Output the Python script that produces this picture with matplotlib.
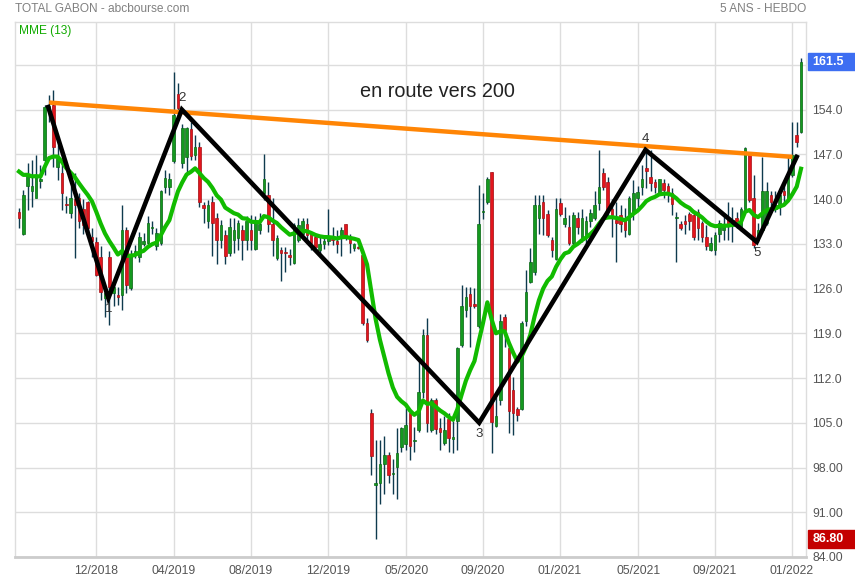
import numpy as np
import matplotlib.pyplot as plt
from matplotlib.patches import Rectangle

plt.rcParams['font.family'] = ['Liberation Sans', 'DejaVu Sans']

# weekly candles (one entry per week, oldest first)
opens = [138.0, 134.6, 142.0, 141.2, 140.1, 142.8, 146.1, 154.0, 154.7, 145.0,
         144.0, 139.2, 137.8, 140.0, 140.1, 138.5, 139.6, 134.0, 133.3, 131.0,
         124.5, 131.0, 125.3, 125.0, 125.0, 135.2, 126.1, 131.6, 131.0, 132.9,
         133.1, 135.4, 132.6, 133.1, 141.9, 141.9, 145.9, 156.5, 145.6, 146.6,
         151.0, 146.9, 148.1, 139.1, 136.5, 139.6,
         137.0, 133.6, 134.4, 131.5, 133.6, 133.9, 135.2, 133.6, 135.2, 132.2,
         135.2, 140.9, 140.6, 136.1, 130.8, 132.0, 131.6, 131.2, 130.0, 133.6,
         134.6, 136.1, 134.6, 134.0, 132.0, 133.0, 133.4, 133.8, 133.5, 134.4,
         136.1, 134.1, 132.4, 132.5, 131.2, 120.6, 106.6, 95.2, 95.6, 98.5,
         99.9, 97.0, 98.1, 101.2, 101.7,
         106.5, 102.1, 103.8, 109.8, 118.8, 103.8, 108.6, 104.2, 101.8, 105.6,
         102.5, 105.2, 117.2, 122.7, 125.1, 123.6, 120.1, 137.9, 139.6, 144.2,
         104.5, 108.6, 121.5, 116.7, 110.2, 107.1, 107.1, 120.9, 127.1, 128.6,
         137.0, 139.6, 137.6, 133.6, 130.6, 139.4, 136.1, 135.6, 133.1, 137.0,
         133.6, 134.0, 136.5, 137.0, 139.4, 144.0,
         142.7, 138.5, 136.8, 137.5, 137.1, 134.5, 138.0, 140.1, 141.9, 144.9,
         143.5, 142.7, 141.0, 142.5, 142.0, 141.0, 137.0, 136.1, 136.6, 137.6,
         137.5, 138.0, 136.2, 134.1, 132.1, 132.1, 134.6, 135.2, 137.0, 135.9,
         137.0, 135.7, 138.5, 146.9, 140.1, 133.6, 135.2, 136.2, 140.6, 138.5,
         139.1, 141.2, 140.1, 143.8, 150.0, 150.5]
highs = [138.6, 141.4, 145.6, 146.1, 146.9, 145.3, 154.7, 156.3, 157.1, 148.5,
         146.1, 140.5, 142.0, 144.0, 140.9, 140.0, 139.7, 135.5, 134.1, 132.6,
         126.0, 131.8, 127.4, 126.3, 139.1, 135.7, 132.0, 132.8, 134.9, 134.7,
         137.3, 136.5, 135.4, 141.4, 144.6, 144.0, 159.9, 158.1, 151.8, 151.3,
         152.1, 150.0, 149.0, 139.6, 139.9, 140.4,
         137.8, 136.7, 135.2, 137.0, 137.0, 136.8, 136.0, 137.3, 137.5, 137.3,
         137.8, 147.0, 142.7, 140.1, 134.3, 132.5, 132.5, 132.2, 136.2, 137.0,
         137.0, 137.0, 134.9, 134.6, 134.0, 134.3, 138.5, 135.6, 135.2, 135.7,
         136.1, 134.6, 133.2, 132.7, 131.7, 121.4, 107.2, 102.3, 102.3, 102.9,
         100.5, 99.4, 104.2, 104.4, 107.3,
         106.8, 104.4, 115.0, 119.7, 121.4, 108.8, 108.8, 105.8, 106.0, 106.5,
         105.2, 116.9, 126.6, 126.3, 126.3, 126.1, 142.2, 141.0, 143.5, 144.2,
         109.0, 122.0, 122.0, 117.5, 112.2, 107.5, 120.9, 128.9, 132.3, 140.6,
         140.6, 140.6, 138.3, 134.0, 140.1, 140.1, 138.8, 137.5, 138.0, 138.0,
         138.5, 137.3, 138.5, 141.2, 147.7, 144.8,
         143.5, 140.0, 139.6, 139.1, 138.6, 140.4, 143.0, 142.1, 145.3, 147.7,
         147.7, 143.2, 143.2, 143.2, 142.5, 141.7, 138.0, 136.5, 137.5, 138.0,
         138.3, 138.5, 136.5, 135.9, 134.1, 134.9, 136.7, 137.8, 139.6, 138.8,
         138.0, 138.8, 148.2, 147.4, 143.8, 136.2, 146.6, 142.7, 141.2, 141.2,
         141.7, 142.7, 146.9, 152.1, 152.1, 162.0]
lows = [135.4, 134.4, 138.3, 138.8, 140.1, 141.8, 143.8, 152.0, 145.0, 143.0,
        138.3, 137.8, 137.0, 130.8, 135.4, 134.5, 134.6, 131.0, 127.9, 124.2,
        121.6, 120.3, 123.2, 123.4, 122.7, 125.3, 125.8, 130.8, 130.2, 132.6,
        132.6, 134.5, 132.0, 132.8, 140.9, 140.6, 145.6, 153.9, 144.8, 144.0,
        146.1, 146.1, 138.8, 136.2, 135.4, 131.1,
        129.9, 132.3, 129.9, 131.1, 131.5, 132.0, 130.4, 132.1, 132.0, 132.0,
        134.6, 139.9, 134.9, 131.1, 130.5, 127.2, 128.6, 129.7, 129.9, 133.3,
        134.1, 133.3, 132.0, 132.0, 131.5, 132.2, 132.8, 132.8, 131.5, 131.1,
        133.6, 131.5, 131.9, 132.2, 120.3, 117.7, 96.8, 86.8, 92.3, 93.8,
        95.6, 93.8, 93.0, 100.5, 100.7,
        99.2, 100.5, 103.6, 108.8, 103.6, 103.6, 103.3, 100.8, 101.5, 100.5,
        100.2, 100.8, 116.9, 121.6, 116.9, 123.0, 119.8, 136.9, 139.3, 100.3,
        104.4, 107.8, 116.9, 103.4, 103.1, 105.2, 107.0, 120.1, 126.8, 128.1,
        134.6, 134.4, 134.1, 131.0, 130.5, 137.3, 135.7, 132.8, 132.8, 134.6,
        133.3, 133.0, 135.7, 136.7, 138.3, 141.4,
        137.0, 134.0, 130.2, 134.9, 134.1, 134.4, 136.7, 138.8, 140.6, 141.7,
        141.2, 141.0, 140.8, 140.1, 139.6, 137.5, 130.2, 135.2, 134.6, 135.2,
        133.6, 133.6, 133.3, 132.1, 131.8, 131.2, 133.3, 133.6, 133.6, 133.3,
        135.4, 135.0, 138.0, 139.6, 132.3, 133.3, 134.9, 135.9, 138.0, 138.0,
        137.5, 139.6, 139.9, 143.5, 148.2, 150.3]
closes = [137.0, 140.7, 143.8, 142.1, 143.8, 143.1, 154.4, 154.5, 148.1, 146.5,
          140.9, 139.0, 140.1, 139.0, 136.5, 136.0, 135.4, 133.5, 128.1, 125.5,
          125.3, 126.3, 126.3, 124.7, 135.2, 126.6, 131.3, 131.8, 134.1, 133.4,
          136.2, 135.5, 134.7, 141.2, 143.3, 143.2, 153.1, 154.2, 151.1, 151.1,
          146.8, 148.1, 139.6, 138.6, 139.1, 136.2,
          133.6, 135.9, 131.1, 135.6, 135.2, 136.2, 133.6, 136.5, 133.6, 136.2,
          136.1, 143.1, 136.1, 133.6, 133.9, 131.5, 131.5, 131.0, 135.9, 135.9,
          136.5, 134.4, 133.1, 132.5, 132.9, 133.4, 133.9, 133.6, 132.9, 135.2,
          134.4, 133.1, 132.9, 132.4, 120.6, 118.0, 99.8, 95.6, 98.5, 99.9,
          96.9, 97.2, 100.2, 104.2, 104.7,
          101.3, 102.3, 109.8, 118.8, 104.9, 108.5, 104.1, 103.6, 103.8, 102.6,
          102.7, 116.7, 123.2, 124.7, 123.2, 123.2, 136.1, 138.2, 143.1, 105.1,
          106.0, 121.0, 119.5, 106.8, 106.6, 106.2, 120.6, 125.5, 130.1, 139.1,
          139.1, 137.0, 134.4, 132.0, 138.5, 137.6, 137.0, 133.1, 137.5, 135.6,
          137.0, 136.6, 137.8, 139.1, 141.9, 141.9,
          138.0, 137.5, 136.3, 136.1, 135.2, 140.1, 141.0, 141.1, 143.1, 144.4,
          142.5, 141.9, 143.1, 141.4, 140.9, 139.3, 137.0, 135.5, 136.1, 136.5,
          134.1, 135.4, 134.1, 132.6, 133.1, 134.4, 136.2, 135.9, 135.9, 136.7,
          136.2, 138.5, 148.0, 139.9, 132.8, 135.2, 141.2, 141.2, 139.6, 139.1,
          140.6, 140.6, 143.8, 146.9, 149.0, 161.5]

mme_start = 144.3  # MME(13) value at the first visible week

x_tick_pos = [17.9, 36.1, 54.0, 71.9, 90.1, 108.0, 125.9, 144.1, 162.0, 179.9]
x_tick_labels = ['12/2018', '04/2019', '08/2019', '12/2019', '05/2020',
                 '09/2020', '01/2021', '05/2021', '09/2021', '01/2022']

# hand drawn wave (points 0..5 + end) and resistance line
wave_x = [6.8, 20.8, 37.9, 107.1, 145.8, 171.7, 181.0]
wave_y = [154.4, 124.5, 154.0, 105.0, 147.7, 133.3, 146.6]
wave_names = ['', '1', '2', '3', '4', '5', '']
trend_x = [7.0, 180.0]
trend_y = [155.1, 146.6]

opens = np.array(opens)
highs = np.array(highs)
lows = np.array(lows)
closes = np.array(closes)
x = np.arange(len(closes))

# exponential moving average, 13 weeks
alpha = 2.0 / (13 + 1)
mme = np.zeros(len(closes))
mme[0] = mme_start
for i in range(1, len(closes)):
    mme[i] = mme[i - 1] + alpha * (closes[i] - mme[i - 1])

fig = plt.figure(figsize=(8.55, 5.8), dpi=100)
ax = fig.add_axes([15 / 855, 23 / 580, 791 / 855, 535 / 580])

up = closes >= opens
body_col = np.where(up, '#14991f', '#e3151d')
edge_col = np.where(up, '#0b6a14', '#a80f14')
ax.vlines(x, lows, highs, color='#0e3a4e', lw=1, zorder=2)
ax.bar(x, np.maximum(np.abs(closes - opens), 0.15), bottom=np.minimum(opens, closes),
       width=0.6, color=body_col, edgecolor=edge_col, linewidth=0.5, zorder=3)

ax.plot(x, mme, color='#11bb00', lw=3.0, zorder=4, solid_joinstyle='round')
ax.plot(trend_x, trend_y, color='#ff8505', lw=3.2, zorder=5, solid_capstyle='butt')
ax.plot(wave_x, wave_y, color='black', lw=3.3, zorder=6, solid_joinstyle='miter')

for i, name in enumerate(wave_names):
    if not name:
        continue
    dy = 8 if i % 2 == 0 else -8
    ax.annotate(name, (wave_x[i], wave_y[i]), xytext=(0, dy), textcoords='offset points',
                ha='center', va='center', fontsize=9.5, color='#333333', zorder=7)

ax.text(0.5335, 0.871, 'en route vers 200', transform=ax.transAxes, ha='center',
        va='center', fontsize=14.3, color='#222222')
ax.text(0.005, 0.995, 'MME (13)', transform=ax.transAxes, ha='left', va='top',
        fontsize=8.6, color='#11aa00')

ax.set_xlim(-0.93, 183.16)
ax.set_ylim(84, 167.7)

y_grid = np.arange(84, 162, 7)
ax.set_yticks(y_grid)
ax.set_yticklabels(['%.2f' % v if v < 100 else '%.1f' % v for v in y_grid[:-1]] + [''])
ax.yaxis.tick_right()
ax.set_xticks(x_tick_pos)
ax.set_xticklabels(x_tick_labels)
ax.tick_params(axis='both', length=0, labelsize=8.8, labelcolor='#555555')
ax.tick_params(axis='y', pad=4.5)
ax.tick_params(axis='x', pad=6)
ax.grid(True, color='#dddddd', lw=1)
ax.set_axisbelow(True)
for side in ['left', 'top', 'right']:
    ax.spines[side].set_color('#dddddd')
    ax.spines[side].set_linewidth(1)
ax.spines['bottom'].set_color('#cccccc')
ax.spines['bottom'].set_linewidth(2)

# price boxes on the right axis
trans = ax.get_yaxis_transform()
for val, txt, col in [(closes[-1], '%.1f' % closes[-1], '#3d6ef2'),
                      (lows.min(), '%.2f' % lows.min(), '#c40000')]:
    ax.add_patch(Rectangle((1.0025, val - 1.35), 0.06, 2.7, transform=trans,
                           color=col, clip_on=False, zorder=8))
    ax.text(1.008, val, txt, transform=trans, ha='left', va='center', fontsize=9,
            color='white', fontweight='bold', zorder=9)

fig.text(15 / 855, 1 - 9 / 580, 'TOTAL GABON - abcbourse.com', ha='left', va='center',
         fontsize=8.6, color='#808080')
fig.text(806 / 855, 1 - 9 / 580, '5 ANS - HEBDO', ha='right', va='center',
         fontsize=8.6, color='#808080')

fig.savefig('out.png', dpi=100)
